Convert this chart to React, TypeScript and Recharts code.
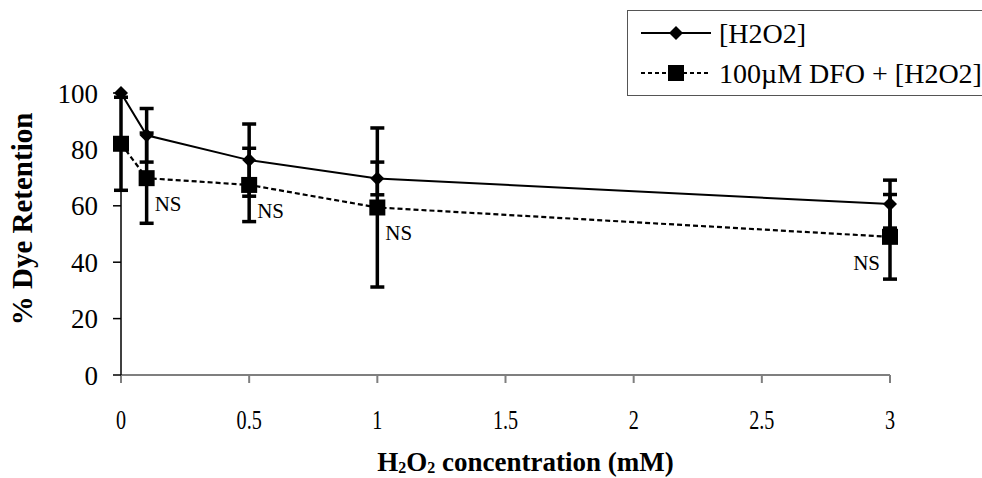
import React from 'react';
import { LineChart, Line, XAxis, YAxis, ErrorBar, LabelList, Label } from 'recharts';

// H2O2 dose (mM)
const doses = [0, 0.1, 0.5, 1, 3];
const h2o2Mean = [100, 85, 76.2, 69.7, 60.6];
const h2o2Err = [0, 9.5, 12.8, 5.8, 8.5];
const dfoMean = [82, 69.8, 67.4, 59.4, 49];
const dfoErr = [16.5, 16, 13, 28.2, 15];
const nsMarks = ['', 'NS', 'NS', 'NS', 'NS'];

const xTicks = [0, 0.5, 1, 1.5, 2, 2.5, 3];
const yTicks = [0, 20, 40, 60, 80, 100];

const seriesNames = ['[H2O2]', '100µM DFO + [H2O2]'];

const data = doses.map((d, i) => ({
    dose: d,
    h2o2: h2o2Mean[i],
    h2o2Err: h2o2Err[i],
    dfo: dfoMean[i],
    dfoErr: dfoErr[i],
    ns: nsMarks[i],
}));

const serif = '"Liberation Serif", serif';

const Diamond = (props: any) => {
    const { cx, cy } = props;
    if (cx == null || cy == null) return null;
    return <path d={`M${cx},${cy - 7} L${cx + 7},${cy} L${cx},${cy + 7} L${cx - 7},${cy} Z`} fill="#000" />;
};

const Square = (props: any) => {
    const { cx, cy } = props;
    if (cx == null || cy == null) return null;
    return <rect x={cx - 8} y={cy - 8} width={16} height={16} fill="#000" />;
};

const XTick = (props: any) => {
    const { x, y, payload } = props;
    return (
        <text transform={`translate(${x},${y + 44}) scale(0.72,1)`} textAnchor="middle" fontSize={28} fill="#000" style={{ fontFamily: serif }}>
            {payload.value}
        </text>
    );
};

const NsLabel = (props: any) => {
    const { x, y, value, index } = props;
    if (!value) return null;
    const last = index === doses.length - 1;
    return (
        <text x={last ? x - 10 : x + 8} y={y + 33} textAnchor={last ? 'end' : 'start'} fontSize={21} fill="#000" style={{ fontFamily: serif }}>
            {value}
        </text>
    );
};

// legend drawn as an overlay so it doesn't shrink the plot area
const LegendBox = () => (
    <div
        style={{
            position: 'absolute',
            left: 627,
            top: 10,
            width: 360,
            height: 86,
            border: '1px solid #555',
            background: '#fff',
            boxSizing: 'border-box',
        }}
    >
        <svg width={360} height={84}>
            <line x1={13} x2={83} y1={22} y2={22} stroke="#000" strokeWidth={2} />
            <Diamond cx={48} cy={22} />
            <text x={91} y={32} fontSize={28} fill="#000" style={{ fontFamily: serif }}>{seriesNames[0]}</text>
            <line x1={13} x2={83} y1={62} y2={62} stroke="#000" strokeWidth={2} strokeDasharray="4 3" />
            <Square cx={48} cy={62} />
            <text x={91} y={72} fontSize={28} fill="#000" style={{ fontFamily: serif }}>{seriesNames[1]}</text>
        </svg>
    </div>
);

const App = () => {
    return (
        <div style={{ position: 'absolute', left: 0, top: 0, width: 982, height: 478, background: '#fff', overflow: 'hidden' }}>
            <LineChart width={982} height={478} data={data} margin={{ top: 93, right: 92, left: 0, bottom: 0 }}>
                <XAxis
                    dataKey="dose"
                    type="number"
                    domain={[0, 3]}
                    ticks={xTicks}
                    interval={0}
                    height={103}
                    stroke="#7f7f7f"
                    strokeWidth={2}
                    tickSize={8}
                    tick={<XTick />}
                >
                    <Label
                        content={(p: any) => {
                            const vb = p.viewBox;
                            return (
                                <text x={vb.x + vb.width / 2 + 20} y={471} textAnchor="middle" fontSize={27} fontWeight="bold" fill="#000" style={{ fontFamily: serif }}>
                                    H<tspan fontSize={16} dy={2}>2</tspan>
                                    <tspan dy={-2}>O</tspan>
                                    <tspan fontSize={16} dy={2}>2</tspan>
                                    <tspan dy={-2}> concentration (mM)</tspan>
                                </text>
                            );
                        }}
                    />
                </XAxis>
                <YAxis
                    type="number"
                    domain={[0, 100]}
                    ticks={yTicks}
                    interval={0}
                    width={121}
                    stroke="#000"
                    strokeWidth={1.5}
                    tickSize={8}
                    tickMargin={15}
                    tick={{ fill: '#000', fontSize: 27, fontFamily: 'Liberation Serif' }}
                >
                    <Label
                        content={(p: any) => {
                            const vb = p.viewBox;
                            const cx = 32;
                            const cy = vb.y + vb.height / 2 - 15;
                            return (
                                <text x={cx} y={cy} transform={`rotate(-90, ${cx}, ${cy})`} textAnchor="middle" fontSize={29} fontWeight="bold" fill="#000" style={{ fontFamily: serif }}>
                                    % Dye Retention
                                </text>
                            );
                        }}
                    />
                </YAxis>
                <Line
                    dataKey="dfo"
                    name={seriesNames[1]}
                    stroke="#000"
                    strokeWidth={2.2}
                    strokeDasharray="5 3"
                    dot={<Square />}
                    activeDot={false}
                    isAnimationActive={false}
                >
                    <ErrorBar dataKey="dfoErr" direction="y" width={7} strokeWidth={3.5} stroke="#000" />
                    <LabelList dataKey="ns" content={<NsLabel />} />
                </Line>
                <Line
                    dataKey="h2o2"
                    name={seriesNames[0]}
                    stroke="#000"
                    strokeWidth={2}
                    dot={<Diamond />}
                    activeDot={false}
                    isAnimationActive={false}
                >
                    <ErrorBar dataKey="h2o2Err" direction="y" width={7} strokeWidth={3.5} stroke="#000" />
                </Line>
            </LineChart>
            <LegendBox />
        </div>
    );
};

export default App;
